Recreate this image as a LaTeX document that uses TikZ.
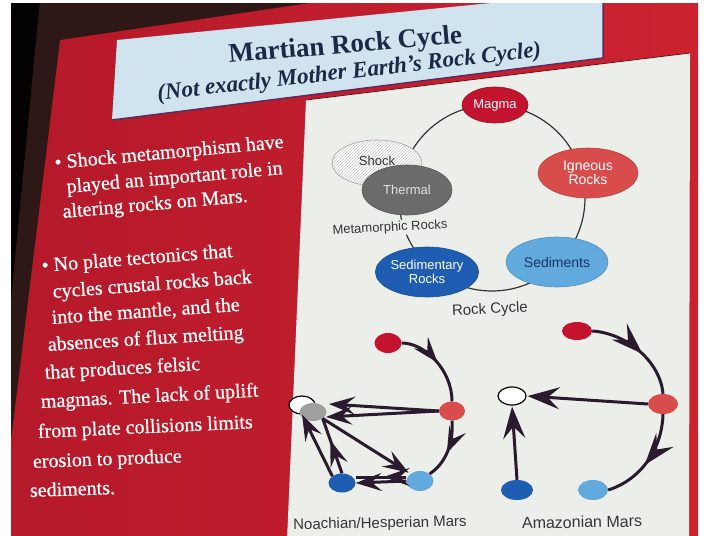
\documentclass[tikz,border=0pt]{standalone}
\usepackage{fontspec}
\setmainfont{Liberation Serif}
\newfontfamily\diagfont{Liberation Sans}
\newfontfamily\slidefont[FakeBold=0.6]{Liberation Serif}
\usetikzlibrary{arrows.meta,decorations.markings,patterns,shapes.geometric}
\definecolor{slidered}{HTML}{CC2230}
\definecolor{slidereddark}{HTML}{B5192A}
\definecolor{darkbg}{HTML}{2E1816}
\definecolor{titleblue}{HTML}{D0E4EF}
\definecolor{titleink}{HTML}{1B2A44}
\definecolor{titleedge}{HTML}{5A2A60}
\definecolor{panel}{HTML}{ECEEEA}
\definecolor{magmac}{HTML}{C4132F}
\definecolor{ignc}{HTML}{D94C4C}
\definecolor{sedc}{HTML}{62A9DD}
\definecolor{sedrc}{HTML}{1F5DB2}
\definecolor{thermc}{HTML}{6B6B6B}
\definecolor{arrc}{HTML}{2A1A2E}
\definecolor{inkc}{HTML}{353535}
\definecolor{navyc}{HTML}{1A3566}
\newcommand\slideline[5]{%
  \node[btext, anchor=base west, rotate=#4] (#1) at (#2,#3) {#5};}
\begin{document}
\begin{tikzpicture}[x=1pt,y=-1pt,
  btext/.style={font=\slidefont\fontsize{20}{24}\selectfont, text=white, inner sep=0pt},
  nd/.style={ellipse, inner sep=0pt, font=\diagfont\fontsize{13}{14}\selectfont, align=center, line width=0.6pt},
  dot/.style={ellipse, inner sep=0pt},
  arr/.style={line width=3pt, draw=arrc},
  tipL/.style={-{Stealth[length=26pt,width=18pt,inset=10pt]}},
  tipR/.style={-{Stealth[length=32pt,width=22pt,inset=12pt]}},
  midL/.style={postaction={decorate}, decoration={markings, mark=at position #1 with {\arrow{Stealth[length=26pt,width=18pt,inset=10pt]}}}},
  midR/.style={postaction={decorate}, decoration={markings, mark=at position #1 with {\arrow{Stealth[length=32pt,width=22pt,inset=12pt]}}}},
  lbl/.style={font=\diagfont, text=inkc, inner sep=0pt}]
\useasboundingbox (0,0) rectangle (719,535);
\fill[white] (0,0) rectangle (719,535);
\begin{scope}
\clip (11,4) rectangle (698,535);
% slide background
\shade[left color=slidereddark, right color=slidered] (11,0) rectangle (698,535);
% dark room corner
\fill[darkbg] (11,0) -- (330,0) -- (60,40) -- (11,440) -- cycle;
\fill[black!90!darkbg] (11,0) -- (40,0) -- (36,40) -- (11,300) -- cycle;
% title box
\fill[titleblue] (117,40) -- (603,-8) -- (603,58) -- (112,120) -- cycle;
\draw[titleedge, line width=1.5pt] (112,120) -- (603,58) -- (603,-8);
% diagram panel
\fill[panel] (306,100) -- (690,53) -- (689,540) -- (287,540) -- cycle;
\draw[slidereddark!60!black, line width=0.8pt] (306,100) -- (690,53);
\end{scope}
% title
\node[font=\bfseries\fontsize{27}{30}\selectfont, text=titleink, anchor=base, rotate=4.9, inner sep=0pt] (title) at (346,53) {Martian Rock Cycle};
\node[font=\bfseries\itshape\fontsize{23}{26}\selectfont, text=titleink, anchor=base, rotate=6.5, inner sep=0pt] (subtitle) at (350,78.5) {(Not exactly Mother Earth's Rock Cycle)};
% bullets
\slideline{l1}{55}{169}{5.3}{\textbullet\ Shock metamorphism have}
\slideline{l2}{67}{193}{5}{played an important role in}
\slideline{l3}{63}{218}{5}{altering rocks on Mars.}
\slideline{l4}{42}{272}{4.5}{\textbullet\ No plate tectonics that}
\slideline{l5}{53}{298}{4.3}{cycles crustal rocks back}
\slideline{l6}{52}{324}{4}{into the mantle, and the}
\slideline{l7}{48}{351}{3.6}{absences of flux melting}
\slideline{l8}{45}{379}{3.3}{that produces felsic}
\slideline{l9}{41}{408}{3}{magmas. The lack of uplift}
\slideline{l10}{38}{438}{2.6}{from plate collisions limits}
\slideline{l11}{33}{468}{2.2}{erosion to produce}
\slideline{l12}{30}{497}{2}{sediments.}
% rock cycle
\draw[inkc, line width=1.2pt] (492,198) circle[radius=93];
\node[nd, minimum width=90pt, minimum height=46pt, draw=gray!70, preaction={fill=white}, pattern=north east lines, pattern color=gray!45, text=inkc] (shock) at (377,163) {\raisebox{4pt}{Shock}};
\node[nd, minimum width=90pt, minimum height=50pt, fill=thermc, draw=thermc!80!black, text=white!88!black] (thermal) at (407,190) {Thermal};
\node[nd, minimum width=66pt, minimum height=36pt, fill=magmac, draw=magmac!80!black, text=white] (magma) at (495,105) {Magma};
\node[nd, minimum width=100pt, minimum height=50pt, fill=ignc, draw=ignc!85!black, text=white, font=\diagfont\fontsize{14}{14}\selectfont] (igneous) at (588,173) {Igneous\\Rocks};
\node[nd, minimum width=102pt, minimum height=50pt, fill=sedc, draw=sedc!85!black, text=navyc, font=\diagfont\fontsize{14}{14}\selectfont] (sediments) at (557,262) {Sediments};
\node[nd, minimum width=94pt, minimum height=50pt, fill=sedrc, draw=sedrc!85!black, text=white] (sedrock) at (427,272) {Sedimentary\\Rocks};
\node[lbl, font=\diagfont\fontsize{13}{14}\selectfont, rotate=3, fill=panel, inner sep=1.5pt] (metalbl) at (390,228) {Metamorphic Rocks};
\node[lbl, font=\diagfont\fontsize{15}{16}\selectfont, rotate=3] (cyclelbl) at (490,310) {Rock Cycle};
% Noachian / Hesperian
\node[dot, minimum width=26pt, minimum height=18pt, draw=black, line width=1.2pt, fill=white] (k1) at (302,405) {};
\node[dot, minimum width=27pt, minimum height=18pt, fill=gray!75] (t1) at (313,412) {};
\node[dot, minimum width=27pt, minimum height=20pt, fill=magmac] (m1) at (388,343) {};
\node[dot, minimum width=26pt, minimum height=19pt, fill=ignc] (i1) at (452,411) {};
\node[dot, minimum width=27pt, minimum height=20pt, fill=sedc] (s1) at (420,481) {};
\node[dot, minimum width=27pt, minimum height=19pt, fill=sedrc] (r1) at (342,483) {};
\coordinate (k1t) at (329,404);
\coordinate (t1t) at (326,417);
\draw[arr, midL=0.5] (m1.east) .. controls (425,343) and (452,370) .. (i1.north);
\draw[arr, midL=0.55] (i1.south) .. controls (454,448) and (442,466) .. (s1.north east);
\draw[arr, tipL] (i1.west) -- (k1t);
\draw[arr, tipL] (i1.west) -- (t1t);
\draw[arr, tipL, shorten >=2pt] (t1.south east) -- (s1.north west);
\draw[arr, tipL] (r1.north west) -- (k1.south);
\draw[arr, midL=0.6] (r1.north) -- (t1.south east);
\draw[arr, tipL] (s1.west) -- (r1.east);
\draw[arr, midL=0.45] ([yshift=4pt]s1.west) -- ([yshift=6pt]r1.east);
% Amazonian
\node[dot, minimum width=28pt, minimum height=18pt, draw=black, line width=1.2pt, fill=white] (k2) at (512,396) {};
\node[dot, minimum width=30pt, minimum height=18pt, fill=magmac] (m2) at (577,331) {};
\node[dot, minimum width=30pt, minimum height=20pt, fill=ignc] (i2) at (663,404) {};
\node[dot, minimum width=30pt, minimum height=20pt, fill=sedc] (s2) at (593,490) {};
\node[dot, minimum width=32pt, minimum height=20pt, fill=sedrc] (r2) at (517,490) {};
\draw[arr, midR=0.55] (m2.east) .. controls (625,333) and (660,360) .. (i2.north);
\draw[arr, midR=0.55] (i2.south) .. controls (662,450) and (640,480) .. (s2.east);
\draw[arr, tipR, shorten >=1pt] (i2.west) -- (k2.east);
\draw[arr, tipR, shorten >=1pt] (r2.north) -- (k2.south);
% labels
\node[lbl, font=\diagfont\fontsize{15}{16}\selectfont, rotate=1] (noach) at (380,524) {Noachian/Hesperian Mars};
\node[lbl, font=\diagfont\fontsize{16}{16}\selectfont, rotate=1] (amaz) at (582,522) {Amazonian Mars};
\end{tikzpicture}
\end{document}
